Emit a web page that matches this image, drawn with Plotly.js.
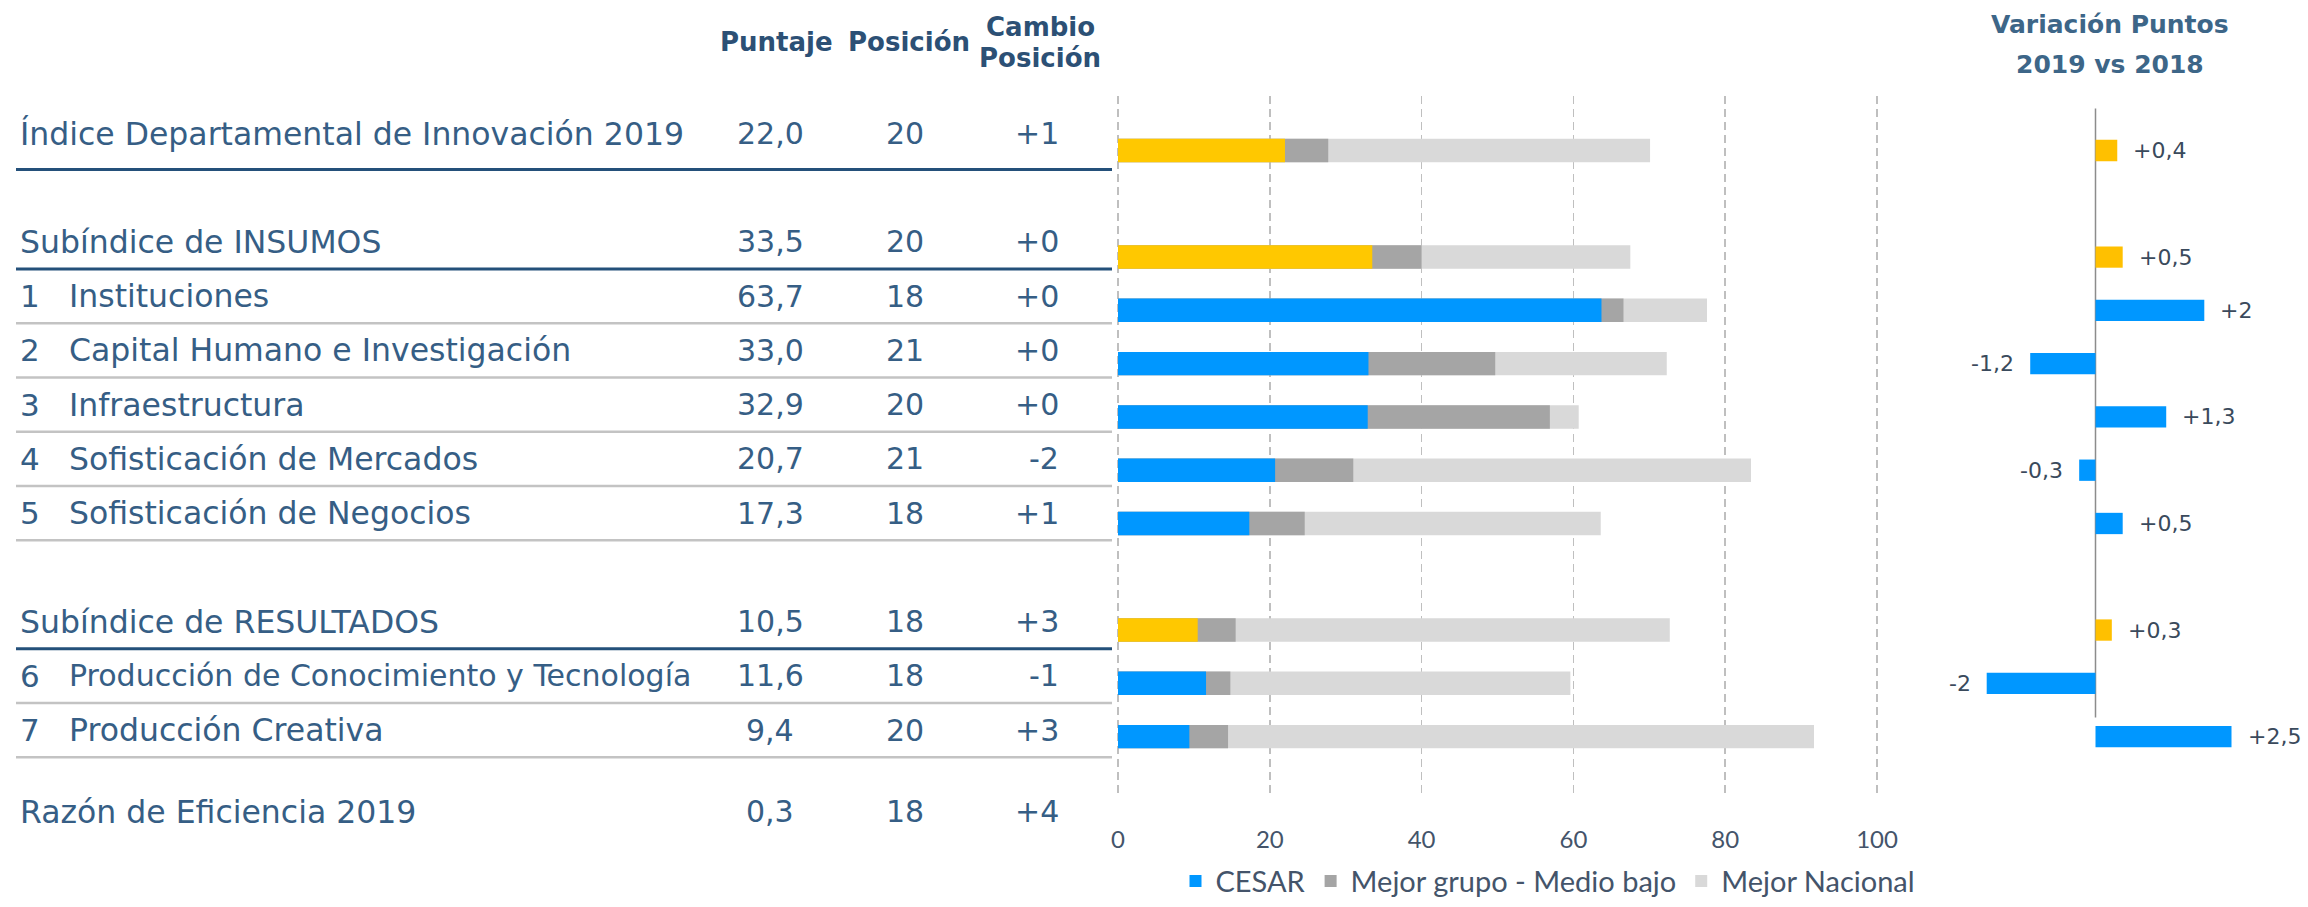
<!DOCTYPE html>
<html>
<head>
<meta charset="utf-8">
<script src="https://cdn.plot.ly/plotly-3.0.1.min.js"></script>
<style>html,body{margin:0;padding:0;background:#fff;}#chart{width:2308px;height:907px;}</style>
</head>
<body>
<div id="chart"></div>
<script>
// ---------------- DATA ----------------
const categories = ['Índice Departamental de Innovación 2019', 'Subíndice de INSUMOS', 'Instituciones',
  'Capital Humano e Investigación', 'Infraestructura', 'Sofisticación de Mercados', 'Sofisticación de Negocios',
  'Subíndice de RESULTADOS', 'Producción de Conocimiento y Tecnología', 'Producción Creativa'];
const pillarNumbers = ['', '', '1', '2', '3', '4', '5', '', '6', '7'];
const rowKind = ['total', 'sub', 'pilar', 'pilar', 'pilar', 'pilar', 'pilar', 'sub', 'pilar', 'pilar'];
const puntaje = [22.0, 33.5, 63.7, 33.0, 32.9, 20.7, 17.3, 10.5, 11.6, 9.4];
const posicion = [20, 20, 18, 21, 20, 21, 18, 18, 18, 20];
const cambioPosicion = ['+1', '+0', '+0', '+0', '+0', '-2', '+1', '+3', '-1', '+3'];
const mejorGrupo = [27.7, 40.0, 66.6, 49.7, 56.9, 31.0, 24.6, 15.5, 14.8, 14.5];
const mejorNacional = [70.1, 67.5, 77.6, 72.3, 60.7, 83.4, 63.6, 72.7, 59.6, 91.7];
const variacion = [0.4, 0.5, 2, -1.2, 1.3, -0.3, 0.5, 0.3, -2, 2.5];
const eficienciaLabel = 'Razón de Eficiencia 2019';
const eficienciaPuntaje = 0.3;
const eficienciaPosicion = 18;
const eficienciaCambio = '+4';
const seriesNames = ['CESAR', 'Mejor grupo - Medio bajo', 'Mejor Nacional'];
const headers = ['Puntaje', 'Posición', 'Cambio', 'Posición'];
const rightTitle = ['Variación Puntos', '2019 vs 2018'];

// ---------------- LAYOUT HELPERS ----------------
const W = 2308, H = 907;
const px = x => x / W;
const py = y => 1 - y / H;
const fmt = v => v.toFixed(1).replace('.', ',');
const fmtVar = v => (v > 0 ? '+' : '') + String(v).replace('.', ',');

// slot of each row (extra gap before sub-index rows)
const slots = [];
let s = -1;
rowKind.forEach((k, i) => { s += (k === 'sub' ? 2 : 1); slots.push(s); });
const efSlot = slots[slots.length - 1] + 1.5;

const COL_YELLOW = '#FFC800', COL_YELLOW2 = '#FFC000', COL_BLUE = '#0097FF';
const COL_DARK = '#A5A5A5', COL_LIGHT = '#D9D9D9';
const TXT = '#365E85', HDR = '#2C5075';

const isHead = rowKind.map(k => k !== 'pilar');
const pick = (arr, cond) => arr.filter((_, i) => cond[i]);
const notHead = isHead.map(v => !v);

const barW = 0.44;
const traces = [
  {type: 'bar', orientation: 'h', name: seriesNames[2], x: mejorNacional, y: slots, width: barW,
   marker: {color: COL_LIGHT}, hoverinfo: 'skip'},
  {type: 'bar', orientation: 'h', name: seriesNames[1], x: mejorGrupo, y: slots, width: barW,
   marker: {color: COL_DARK}, hoverinfo: 'skip'},
  {type: 'bar', orientation: 'h', name: seriesNames[0], x: pick(puntaje, notHead), y: pick(slots, notHead), width: barW,
   marker: {color: COL_BLUE}, hoverinfo: 'skip'},
  {type: 'bar', orientation: 'h', name: seriesNames[0], x: pick(puntaje, isHead), y: pick(slots, isHead), width: barW,
   marker: {color: COL_YELLOW}, showlegend: false, hoverinfo: 'skip'},
  {type: 'bar', orientation: 'h', x: pick(variacion, notHead), y: pick(slots, notHead), width: 0.4,
   xaxis: 'x2', yaxis: 'y', marker: {color: COL_BLUE}, showlegend: false, hoverinfo: 'skip'},
  {type: 'bar', orientation: 'h', x: pick(variacion, isHead), y: pick(slots, isHead), width: 0.4,
   xaxis: 'x2', yaxis: 'y', marker: {color: COL_YELLOW2}, showlegend: false, hoverinfo: 'skip'}
];

// ---------------- TABLE ----------------
const annotations = [];
const shapes = [];
const tableY = sl => py(135 + 55 * sl);
const rowFont = (size, color) => ({family: 'DejaVu Sans', size: size, color: color || TXT});

categories.forEach((lab, i) => {
  const y = tableY(slots[i]);
  const size = (rowKind[i] === 'pilar' && lab.length > 34) ? 30 : 31.5;
  if (rowKind[i] === 'pilar') {
    annotations.push({xref: 'paper', yref: 'paper', x: px(18), y: y, xanchor: 'left', yanchor: 'middle',
      text: pillarNumbers[i], showarrow: false, font: rowFont(31)});
    annotations.push({xref: 'paper', yref: 'paper', x: px(67), y: y, xanchor: 'left', yanchor: 'middle',
      text: lab, showarrow: false, font: rowFont(size)});
  } else {
    annotations.push({xref: 'paper', yref: 'paper', x: px(18), y: y, xanchor: 'left', yanchor: 'middle',
      text: lab, showarrow: false, font: rowFont(size)});
  }
  annotations.push({xref: 'paper', yref: 'paper', x: px(770), y: y, xanchor: 'center', yanchor: 'middle',
    text: fmt(puntaje[i]), showarrow: false, font: rowFont(30)});
  annotations.push({xref: 'paper', yref: 'paper', x: px(905), y: y, xanchor: 'center', yanchor: 'middle',
    text: String(posicion[i]), showarrow: false, font: rowFont(30)});
  annotations.push({xref: 'paper', yref: 'paper', x: px(1061), y: y, xanchor: 'right', yanchor: 'middle',
    text: cambioPosicion[i], showarrow: false, font: rowFont(30)});
  // separator line under the row
  const off = rowKind[i] === 'total' ? 0.67 : 0.5;
  const ly = py(135 + 55 * (slots[i] + off));
  shapes.push({type: 'line', xref: 'paper', yref: 'paper', x0: px(16), x1: px(1112), y0: ly, y1: ly,
    line: {color: rowKind[i] === 'pilar' ? '#C3C3C3' : '#24507A', width: rowKind[i] === 'pilar' ? 2.5 : 3}});
});
// Razón de eficiencia row
{
  const y = tableY(efSlot);
  annotations.push({xref: 'paper', yref: 'paper', x: px(18), y: y, xanchor: 'left', yanchor: 'middle',
    text: eficienciaLabel, showarrow: false, font: rowFont(31.5)});
  annotations.push({xref: 'paper', yref: 'paper', x: px(770), y: y, xanchor: 'center', yanchor: 'middle',
    text: fmt(eficienciaPuntaje), showarrow: false, font: rowFont(30)});
  annotations.push({xref: 'paper', yref: 'paper', x: px(905), y: y, xanchor: 'center', yanchor: 'middle',
    text: String(eficienciaPosicion), showarrow: false, font: rowFont(30)});
  annotations.push({xref: 'paper', yref: 'paper', x: px(1061), y: y, xanchor: 'right', yanchor: 'middle',
    text: eficienciaCambio, showarrow: false, font: rowFont(30)});
}
// headers
const hdrFont = {family: 'DejaVu Sans', size: 26, color: HDR};
[[headers[0], 776, 43], [headers[1], 909, 43], [headers[2], 1040, 27], [headers[3], 1040, 59]].forEach(h => {
  annotations.push({xref: 'paper', yref: 'paper', x: px(h[1]), y: py(h[2]), xanchor: 'center', yanchor: 'middle',
    text: '<b>' + h[0] + '</b>', showarrow: false, font: hdrFont});
});
// right panel title
[[rightTitle[0], 25], [rightTitle[1], 65]].forEach(t => {
  annotations.push({xref: 'paper', yref: 'paper', x: px(2110), y: py(t[1]), xanchor: 'center', yanchor: 'middle',
    text: '<b>' + t[0] + '</b>', showarrow: false, font: {family: 'DejaVu Sans', size: 25, color: '#3D6688'}});
});
// right panel value labels
variacion.forEach((v, i) => {
  annotations.push({xref: 'x2', yref: 'y', x: v, y: slots[i], xanchor: v >= 0 ? 'left' : 'right', yanchor: 'middle',
    xshift: v >= 0 ? 14 : -14, text: fmtVar(v), showarrow: false,
    font: {family: 'DejaVu Sans', size: 22, color: '#3A4A5C'}});
});
// right panel axis line
shapes.push({type: 'line', xref: 'x2', yref: 'y', x0: 0, x1: 0, y0: -0.79, y1: 10.64,
  line: {color: '#8C8C8C', width: 1.5}, layer: 'below'});

const layout = {
  width: W, height: H,
  margin: {l: 0, r: 0, t: 0, b: 0},
  paper_bgcolor: '#fff', plot_bgcolor: 'rgba(0,0,0,0)',
  barmode: 'overlay',
  showlegend: true,
  legend: {orientation: 'h', x: px(1548), xanchor: 'center', y: py(893), yanchor: 'middle',
    traceorder: 'reversed', bgcolor: 'rgba(0,0,0,0)', itemwidth: 30,
    font: {family: 'Lato', size: 29, color: '#44546A'}},
  xaxis: {domain: [px(1114), px(1900)], range: [-(1118 - 1114) / 7.59, (1900 - 1118) / 7.59],
    tickmode: 'linear', tick0: 0, dtick: 20, showgrid: true, gridcolor: '#BFBFBF', gridwidth: 1.5,
    griddash: '8px,5px', zeroline: false, showline: false, ticks: 'outside', ticklen: 24,
    tickcolor: 'rgba(0,0,0,0)', tickfont: {family: 'Lato', size: 24, color: '#44546A'}, fixedrange: true},
  yaxis: {domain: [py(805), py(97)], range: [(805 - 152.5) / 54, (97 - 152.5) / 54], visible: false, fixedrange: true},
  xaxis2: {domain: [px(1960), px(2260)], range: [-(2095.5 - 1960) / 54.4, (2260 - 2095.5) / 54.4],
    anchor: 'y', visible: false, fixedrange: true},
  annotations: annotations,
  shapes: shapes
};

Plotly.newPlot('chart', traces, layout, {displayModeBar: false, staticPlot: true});
</script>
</body>
</html>
